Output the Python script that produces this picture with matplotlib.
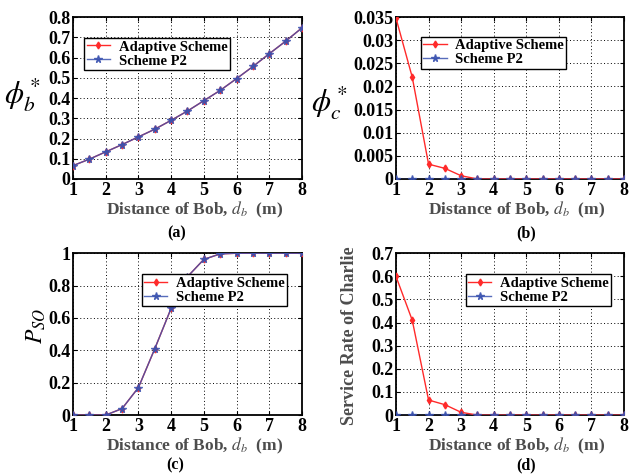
import matplotlib
matplotlib.use("Agg")
import matplotlib.pyplot as plt
from matplotlib.ticker import FuncFormatter

# -----------------------------
# Data
# -----------------------------
d_b = [1, 1.5, 2, 2.5, 3, 3.5, 4, 4.5, 5, 5.5, 6, 6.5, 7, 7.5, 8]

phi_b_adaptive = [0.066, 0.098, 0.134, 0.170, 0.208, 0.246, 0.290, 0.336,
                  0.387, 0.438, 0.496, 0.556, 0.619, 0.681, 0.747]
phi_b_p2 = list(phi_b_adaptive)

phi_c_adaptive = [0.0348, 0.022, 0.0032, 0.0023, 0.0007, 0.0, 0.0, 0.0,
                  0.0, 0.0, 0.0, 0.0, 0.0, 0.0, 0.0]
phi_c_p2 = [0.0] * 15

pso_adaptive = [0.0, 0.0, 0.0, 0.04, 0.17, 0.41, 0.66, 0.855, 0.962,
                0.996, 1.0, 1.0, 1.0, 1.0, 1.0]
pso_p2 = list(pso_adaptive)

rate_adaptive = [0.6, 0.41, 0.065, 0.045, 0.012, 0.0, 0.0, 0.0, 0.0,
                 0.0, 0.0, 0.0, 0.0, 0.0, 0.0]
rate_p2 = [0.0] * 15

plt.rcParams["font.family"] = ["Liberation Serif", "DejaVu Serif"]
plt.rcParams["font.weight"] = "normal"
plt.rcParams["mathtext.fontset"] = "stix"

RED = "#ff2a2a"
BLUE = "#3a52b0"
GRAY = "#4d4d4d"


def fmt_g(v, pos):
    return "%g" % round(v, 4)


def draw_panel(fig, rect, y_a, y_p, ylim, ystep, ylabel, ylab_xy, ylab_rot,
               ylab_size, ylab_color, ylab_weight, leg_anchor, tag, tag_xy):
    ax = fig.add_axes(rect)
    ax.plot(d_b, y_a, color=RED, lw=1.0, marker="d", ms=3.5,
            label="Adaptive Scheme", zorder=3)
    ax.plot(d_b, y_p, color=BLUE, lw=1.0, marker="*", ms=5.5, alpha=0.85,
            label="Scheme P2", zorder=4)
    ax.set_xlim(1, 8)
    ax.set_ylim(*ylim)
    ax.set_xticks(range(1, 9))
    n = int(round((ylim[1] - ylim[0]) / ystep))
    ax.set_yticks([ylim[0] + i * ystep for i in range(n + 1)])
    ax.yaxis.set_major_formatter(FuncFormatter(fmt_g))
    ax.tick_params(direction="in", top=True, right=True, length=3,
                   labelsize=13, pad=2)
    for lab in ax.get_xticklabels() + ax.get_yticklabels():
        lab.set_fontweight("bold")
    ax.grid(True, color="black", linestyle=(0, (1, 2.5)), linewidth=0.7)
    for s in ax.spines.values():
        s.set_linewidth(1.3)
    ax.set_xlabel(r"Distance of Bob, $d_b$  (m)", fontsize=12.5,
                  fontweight="bold", color=GRAY)
    ax.xaxis.set_label_coords(0.53, -0.13)
    ax.set_ylabel(ylabel, fontsize=ylab_size, rotation=ylab_rot,
                  color=ylab_color, fontweight=ylab_weight)
    ax.yaxis.set_label_coords(*ylab_xy)
    if ylab_rot == 0:
        ax.yaxis.label.set_verticalalignment("center")
        ax.yaxis.label.set_horizontalalignment("center")
    leg = ax.legend(loc="upper left", bbox_to_anchor=leg_anchor, fancybox=False,
                    edgecolor="black", framealpha=1, borderpad=0.15,
                    borderaxespad=0.0, handlelength=1.6, handletextpad=0.6,
                    labelspacing=0.05,
                    prop={"weight": "bold", "size": 10.5})
    leg.get_frame().set_linewidth(1.0)
    fig.text(tag_xy[0], tag_xy[1], tag, ha="center", va="center",
             fontsize=11.5, fontweight="bold")
    return ax


def main():
    fig = plt.figure(figsize=(6.36, 4.76), dpi=100)

    w, h = 0.360, 0.340
    draw_panel(fig, [0.1148, 0.624, w, h], phi_b_adaptive, phi_b_p2,
               (0, 0.8), 0.1, r"$\phi_b^*$", (-0.22, 0.52), 0, 22, "black",
               "normal", (0.05, 0.87), "(a)", (0.277, 0.509))
    draw_panel(fig, [0.6226, 0.624, 0.3585, h], phi_c_adaptive, phi_c_p2,
               (0, 0.035), 0.005, r"$\phi_c^*$", (-0.29, 0.47), 0, 22, "black",
               "normal", (0.11, 0.877), "(b)", (0.827, 0.509))
    draw_panel(fig, [0.1148, 0.128, w, h], pso_adaptive, pso_p2,
               (0, 1.0), 0.2, r"$P_{SO}$", (-0.11, 0.55), 90, 17, "black",
               "normal", (0.30, 0.87), "(c)", (0.276, 0.022))
    draw_panel(fig, [0.6226, 0.128, 0.3585, h], rate_adaptive, rate_p2,
               (0, 0.7), 0.1, "Service Rate of Charlie", (-0.165, 0.49), 90,
               13, GRAY, "bold", (0.307, 0.87), "(d)", (0.827, 0.022))

    fig.savefig("out.png", dpi=100)


if __name__ == "__main__":
    main()
